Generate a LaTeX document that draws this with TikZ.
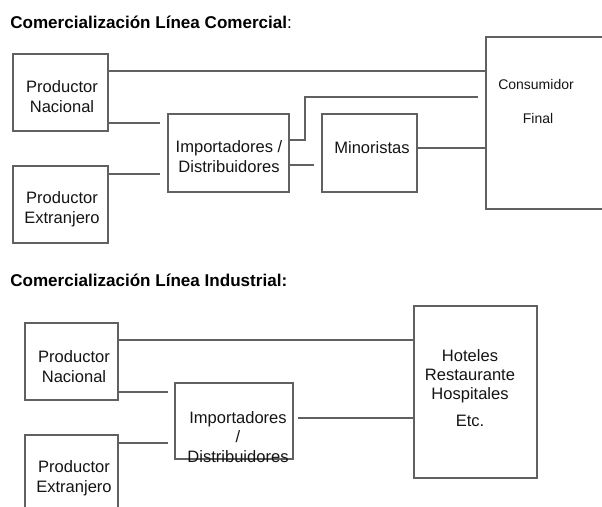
\documentclass[tikz,border=0pt]{standalone}
\usepackage{fontspec}
\setmainfont{Liberation Sans}
\usetikzlibrary{fit}
\begin{document}
\begin{tikzpicture}[x=0.75pt,y=-0.75pt,
  ln/.style={draw=black!62, line width=0.95pt},
  box/.style={ln, rectangle, inner sep=0pt, fit={#1}},
  txt/.style={inner sep=0pt, align=center, font=\fontsize{12.4}{15}\selectfont, text=black!92},
  ttl/.style={inner sep=0pt, anchor=west, font=\fontsize{12.8}{15}\selectfont\bfseries}]
\useasboundingbox (0,0) rectangle (602,506);
\clip (0,0) rectangle (602,506);
% ---------- Linea Comercial ----------
\node[ttl] (t1) at (10,22) {Comercialización Línea Comercial\mdseries:};
\node[box={(13,54) (108,131)}] (pn1) {};
\node[txt] (pn1t) at (62,97) {Productor\\Nacional};
\node[box={(13,166) (108,243)}] (pe1) {};
\node[txt] (pe1t) at (62,209) {Productor\\Extranjero};
\node[box={(168,114) (289,192)}] (imp1) {};
\node[txt] (imp1t) at (229,157) {Importadores /\\Distribuidores};
\node[box={(322,114) (417,192)}] (min1) {};
\node[txt] (min1t) at (372,148) {Minoristas};
\node[box={(486,37) (620,209)}] (con1) {};
\node[txt, font=\fontsize{10.5}{12}\selectfont] (con1a) at (536,84) {Consumidor};
\node[txt, font=\fontsize{10.5}{12}\selectfont] (con1b) at (538,118) {Final};
\coordinate (c1) at (160,123);
\coordinate (c2) at (160,174);
\coordinate (c3) at (305,97);
\coordinate (c4) at (478,97);
\coordinate (c5) at (314,165);
\draw[ln] (pn1.east |- 0,71) -- (con1.west |- 0,71);
\draw[ln] (pn1.east |- c1) -- (c1);
\draw[ln] (pe1.east |- c2) -- (c2);
\draw[ln] (imp1.east |- 0,140) -| (c3) -- (c4);
\draw[ln] (imp1.east |- c5) -- (c5);
\draw[ln] (min1.east |- 0,148) -- (con1.west |- 0,148);
% ---------- Linea Industrial ----------
\node[ttl] (t2) at (10,280) {Comercialización Línea Industrial:};
\node[box={(25,323) (118,400)}] (pn2) {};
\node[txt] (pn2t) at (74,367) {Productor\\Nacional};
\node[box={(25,435) (118,530)}] (pe2) {};
\node[txt] (pe2t) at (74,478) {Productor\\Extranjero};
\node[box={(175,383) (293,459)}] (imp2) {};
\node[txt, font=\fontsize{12.4}{14.6}\selectfont] (imp2t) at (238,437) {Importadores\\/\\Distribuidores};
\node[box={(414,306) (537,478)}] (hot) {};
\node[txt, font=\fontsize{12.4}{14.3}\selectfont] (hott) at (470,376) {Hoteles\\Restaurante\\Hospitales};
\node[txt] (etc) at (470,421) {Etc.};
\coordinate (d1) at (168,392);
\coordinate (d2) at (168,443);
\coordinate (d3) at (298,418);
\draw[ln] (pn2.east |- 0,340) -- (hot.west |- 0,340);
\draw[ln] (pn2.east |- d1) -- (d1);
\draw[ln] (pe2.east |- d2) -- (d2);
\draw[ln] (d3) -- (hot.west |- d3);
\end{tikzpicture}
\end{document}
